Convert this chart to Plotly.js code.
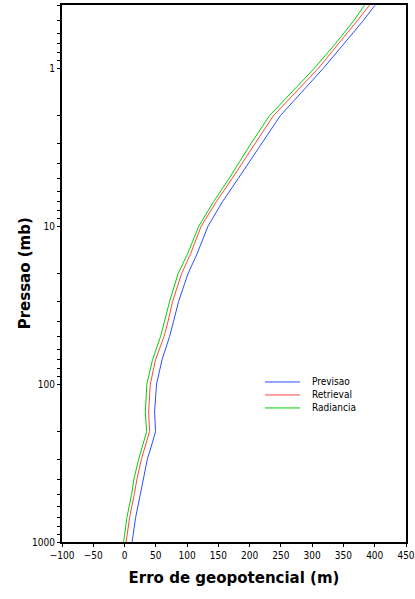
<!DOCTYPE html>
<html>
<head>
<meta charset="utf-8">
<script src="https://cdn.plot.ly/plotly-3.0.1.min.js"></script>
<style>
html,body{margin:0;padding:0;background:#fff;}
#chart{width:415px;height:599px;}
</style>
</head>
<body>
<div id="chart"></div>
<script>
const pressure = [1000, 850, 700, 500, 400, 300, 250, 200, 150, 100, 70, 50, 40, 30, 20, 15, 10, 7, 5, 3, 2, 1, 0.7, 0.5, 0.4];
const previsao = [12.1, 14.5, 17.7, 25.2, 29.7, 36.4, 42.5, 49.6, 48.0, 51.2, 60.0, 72.0, 78.4, 86.4, 101.5, 115.9, 133.5, 156.6, 181.7, 219.7, 249.0, 318.0, 351.5, 381.7, 400.2];
const retrieval = [2.5, 5.4, 8.1, 15.6, 19.8, 26.8, 33.2, 40.0, 38.5, 41.2, 49.6, 63.1, 69.6, 76.8, 91.2, 105.5, 122.6, 146.7, 171.8, 208.5, 238.0, 310.0, 342.7, 372.2, 391.4];
const radiancia = [-1.5, 1.2, 3.8, 11.3, 15.0, 22.5, 28.4, 35.3, 33.2, 35.7, 44.8, 57.6, 64.0, 72.0, 85.6, 100.7, 118.8, 142.3, 167.0, 202.2, 231.7, 303.6, 337.1, 366.6, 383.4];
const seriesNames = ['Previsao', 'Retrieval', 'Radiancia'];
const seriesColors = ['rgb(40,80,255)', 'rgb(255,70,70)', 'rgb(0,210,0)'];
const yTickVals = [1000, 900, 800, 700, 600, 500, 400, 300, 200, 100, 90, 80, 70, 60, 50, 40, 30, 20, 10, 9, 8, 7, 6, 5, 4, 3, 2, 1, 0.9, 0.8, 0.7, 0.6, 0.5, 0.4];
const yMajorLabels = ['1000', '100', '10', '1'];
const xTitle = 'Erro de geopotencial (m)';
const yTitle = 'Pressao (mb)';

const narrow = '"Liberation Sans Narrow", "DejaVu Sans Condensed", "Liberation Sans", sans-serif';

const seriesData = [previsao, retrieval, radiancia];
const traces = seriesData.map((xs, i) => ({
  x: xs, y: pressure, name: seriesNames[i], mode: 'lines',
  line: {color: seriesColors[i], width: 1}, showlegend: false
}));

const yTickText = yTickVals.map(v => yMajorLabels.includes(String(v)) ? String(v) : '');

// legend drawn as sample lines + labels (paper coordinates)
const legX0 = 0.59, legX1 = 0.692, legTextX = 0.72, legY0 = 0.298, legStep = 0.0242;
const shapes = seriesNames.map((n, i) => ({
  type: 'line', xref: 'paper', yref: 'paper',
  x0: legX0, x1: legX1, y0: legY0 - i * legStep, y1: legY0 - i * legStep,
  line: {color: seriesColors[i], width: 1}
}));
const annotations = seriesNames.map((n, i) => ({
  xref: 'paper', yref: 'paper', x: legTextX, y: legY0 - i * legStep,
  xanchor: 'left', yanchor: 'middle', showarrow: false, text: n,
  font: {family: narrow, size: 10, color: '#000'}
}));
annotations.push({
  xref: 'paper', yref: 'paper', x: -0.108, y: 0.5, xanchor: 'center', yanchor: 'middle',
  showarrow: false, text: yTitle, textangle: -90,
  font: {family: '"DejaVu Sans", sans-serif', size: 15, color: '#000', weight: 'bold'}
});

const layout = {
  width: 415, height: 599,
  margin: {l: 62, r: 9, t: 5, b: 57},
  paper_bgcolor: '#fff', plot_bgcolor: '#fff',
  showlegend: false,
  shapes: shapes,
  annotations: annotations,
  xaxis: {
    range: [-100, 450], dtick: 50, tick0: -100,
    showgrid: false, zeroline: false,
    showline: true, linecolor: '#000', linewidth: 2, mirror: true,
    ticks: 'outside', ticklen: 3, tickcolor: '#000',
    tickfont: {family: narrow, size: 10, color: '#000'},
    title: {text: xTitle, font: {family: '"DejaVu Sans", sans-serif', size: 15, color: '#000', weight: 'bold'}, standoff: 12}
  },
  yaxis: {
    type: 'log', range: [3, -0.4],
    tickmode: 'array', tickvals: yTickVals, ticktext: yTickText,
    showgrid: false, zeroline: false,
    showline: true, linecolor: '#000', linewidth: 2, mirror: true,
    ticks: 'outside', ticklen: 3, tickcolor: '#000',
    tickfont: {family: narrow, size: 10, color: '#000'}
  }
};

Plotly.newPlot('chart', traces, layout, {displayModeBar: false, staticPlot: true});
</script>
</body>
</html>
